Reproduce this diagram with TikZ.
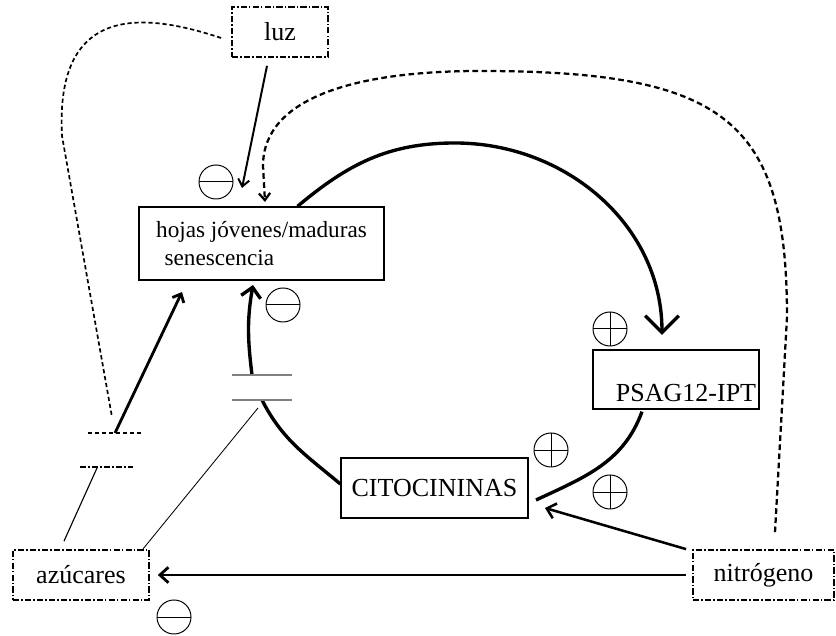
\documentclass[tikz,border=0pt]{standalone}
\usepackage{fontspec}
\setmainfont{Liberation Serif}
\usetikzlibrary{arrows.meta}

\tikzset{
  every node/.style={font=\fontsize{18.5}{22}\selectfont},
  box/.style={draw,line width=0.9pt,inner sep=2pt},
  envbox/.style={draw,line width=1.2pt,dash pattern=on 4.5pt off 1.5pt on 1pt off 1.5pt,inner sep=2pt},
  inh/.style={circle,draw,line width=0.7pt,minimum size=0.85cm,inner sep=0pt,
    path picture={\draw (path picture bounding box.west) -- (path picture bounding box.east);}},
  act/.style={circle,draw,line width=0.7pt,minimum size=0.85cm,inner sep=0pt,
    path picture={\draw (path picture bounding box.west) -- (path picture bounding box.east)
      (path picture bounding box.north) -- (path picture bounding box.south);}},
  ring/.style={line width=2.4pt},
  feed/.style={line width=1.6pt,dash pattern=on 4pt off 2.5pt},
  hint/.style={line width=1.2pt,dash pattern=on 3pt off 2pt},
  dotdash/.style={line width=1.2pt,dash pattern=on 4.5pt off 1.5pt on 1pt off 1.5pt},
}

\begin{document}
\begin{tikzpicture}[x=0.025cm,y=0.025cm]
  \useasboundingbox (0,0) rectangle (836,636);

  \path
  (280,604) node[envbox,minimum width=2.4cm,minimum height=1.25cm](luz) {luz}
  (261.5,392.5) node[box,minimum width=6.125cm,minimum height=1.825cm,align=left,
    font=\fontsize{16.5}{20.5}\selectfont](hojas) {hojas jóvenes/maduras\\\hspace*{6pt}senescencia}
  (676,256.5) node[box,minimum width=4.15cm,minimum height=1.475cm,text width=114pt,
    align=right,text height=34.3pt,text depth=3.7pt](psag) {PSAG12-IPT}
  (434.5,148) node[box,minimum width=4.675cm,minimum height=1.5cm](cito) {CITOCININAS}
  (81,61) node[envbox,minimum width=3.4cm,minimum height=1.25cm](azu) {azúcares}
  (763.5,61) node[envbox,minimum width=3.525cm,minimum height=1.25cm](nitro) {nitrógeno}
  ;

  \path
  (216,454) node[inh](m1) {}
  (283,331) node[inh](m2) {}
  (174,19) node[inh](m3) {}
  (610,307) node[act](p1) {}
  (551,186) node[act](p2) {}
  (610,144) node[act](p3) {}
  ;

  \path
  (455,493) coordinate(ringtop)
  (662,301) coordinate(psagin)
  (536,136) coordinate(citoout)
  (262,236) coordinate(gaplo)
  (252,261) coordinate(gaphi)
  (253,351) coordinate(hojasbot)
  (258,228) coordinate(gapfoot)
  (242,448) coordinate(luzin)
  (265,434) coordinate(nitroin)
  (112,219) coordinate(luzend)
  (115,203) coordinate(azubar)
  (97,168) coordinate(azufoot)
  (182,344) coordinate(azuin)
  (545,128) coordinate(citoin)
  ;

  \draw[ring,-{Straight Barb[length=12pt,width=24pt]}] ([xshift=0.9cm]hojas.north)
    to[out=40,in=180] (ringtop) to[out=0,in=90] (psagin);
  \draw[ring] ([xshift=-0.85cm,yshift=-0.05cm]psag.south) to[out=250,in=25] (citoout);
  \draw[ring] ([yshift=0.1cm]cito.west) to[out=140,in=-63] (gaplo);
  \draw[ring,-{Straight Barb[length=7pt,width=14pt]}] (gaphi) to[out=97,in=260] (hojasbot);

  \draw[gray,line width=1.1pt] (232,261) -- (292,261) (232,236) -- (292,236);
  \draw[line width=0.6pt] (gapfoot) -- ([xshift=-0.175cm]azu.north east);

  \draw[line width=1.4pt,-{Straight Barb[length=5pt,width=8pt]}] (luz.south) ++(-13,-8) -- (luzin);
  \draw[hint] (luz.west) ++(-10,-6) .. controls (140,625) and (55,630) .. (62,500) -- (luzend);
  \draw[hint] (88,203) -- (141,203);
  \draw[dotdash] (80,169) -- (133,169);
  \draw[line width=0.8pt] (azufoot) -- ([xshift=-0.425cm,yshift=0.2cm]azu.north);
  \draw[line width=2pt,-{Straight Barb[length=5pt,width=9pt]}] (azubar) -- (azuin);

  \draw[feed,-{Straight Barb[length=5pt,width=8pt]}] (nitro.north) ++(11.5,17) -- (787,319)
    .. controls +(0,197) and +(245,0) .. (480,565)
    .. controls +(-120,0) and +(0,70) .. (263,470) -- (nitroin);
  \draw[line width=2pt,-{Straight Barb[length=6pt,width=11pt]}] ([xshift=-0.15cm]nitro.west) -- ([xshift=0.2cm]azu.east);
  \draw[line width=1.8pt,-{Straight Barb[length=6pt,width=11pt]}] ([xshift=-0.15cm]nitro.north west) -- (citoin);
\end{tikzpicture}
\end{document}
